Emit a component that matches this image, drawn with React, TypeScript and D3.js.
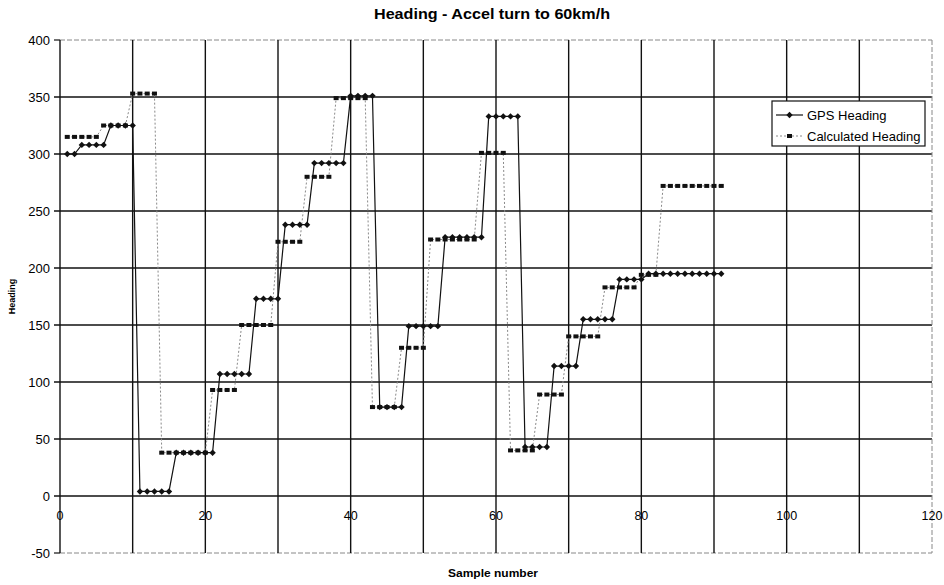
import React from "react";
import * as d3 from "d3";

const chartTitle = "Heading - Accel turn to 60km/h";
const xAxisTitle = "Sample number";
const yAxisTitle = "Heading";
const seriesNames = ["GPS Heading", "Calculated Heading"];
const xTickLabels = [0, 20, 40, 60, 80, 100, 120];
const xGridValues = [0, 10, 20, 30, 40, 50, 60, 70, 80, 90, 100, 110, 120];
const yTickLabels = [-50, 0, 50, 100, 150, 200, 250, 300, 350, 400];

// sample numbers 1..91
const sampleNumbers = [
  1, 2, 3, 4, 5, 6, 7, 8, 9, 10, 11, 12, 13, 14, 15, 16, 17, 18, 19, 20,
  21, 22, 23, 24, 25, 26, 27, 28, 29, 30, 31, 32, 33, 34, 35, 36, 37, 38, 39, 40,
  41, 42, 43, 44, 45, 46, 47, 48, 49, 50, 51, 52, 53, 54, 55, 56, 57, 58, 59, 60,
  61, 62, 63, 64, 65, 66, 67, 68, 69, 70, 71, 72, 73, 74, 75, 76, 77, 78, 79, 80,
  81, 82, 83, 84, 85, 86, 87, 88, 89, 90, 91,
];

const gpsHeading = [
  300, 300,
  308, 308, 308, 308,
  325, 325, 325, 325,
  4, 4, 4, 4, 4,
  38, 38, 38, 38, 38, 38,
  107, 107, 107, 107, 107,
  173, 173, 173, 173,
  238, 238, 238, 238,
  292, 292, 292, 292, 292,
  351, 351, 351, 351,
  78, 78, 78, 78,
  149, 149, 149, 149, 149,
  227, 227, 227, 227, 227, 227,
  333, 333, 333, 333, 333,
  43, 43, 43, 43,
  114, 114, 114, 114,
  155, 155, 155, 155, 155,
  190, 190, 190, 190,
  195, 195, 195, 195, 195, 195, 195, 195, 195, 195, 195,
];

const calculatedHeading = [
  315, 315, 315, 315, 315,
  325, 325, 325, 325,
  353, 353, 353, 353,
  38, 38, 38, 38, 38, 38, 38,
  93, 93, 93, 93,
  150, 150, 150, 150, 150,
  223, 223, 223, 223,
  280, 280, 280, 280,
  349, 349, 349, 349, 349,
  78, 78, 78, 78,
  130, 130, 130, 130,
  225, 225, 225, 225, 225, 225, 225,
  301, 301, 301, 301,
  40, 40, 40, 40,
  89, 89, 89, 89,
  140, 140, 140, 140, 140,
  183, 183, 183, 183, 183,
  194, 194, 194,
  272, 272, 272, 272, 272, 272, 272, 272, 272,
];

const FONT = "'Liberation Sans', Arial, sans-serif";

export default function App() {
  const W = 944;
  const H = 585;
  const x = d3.scaleLinear().domain([0, 120]).range([60, 932]);
  const y = d3.scaleLinear().domain([-50, 400]).range([553, 40]);

  const gpsPts = sampleNumbers.map((s, i) => [s, gpsHeading[i]] as [number, number]);
  const calcPts = sampleNumbers.map((s, i) => [s, calculatedHeading[i]] as [number, number]);
  const line = d3
    .line<[number, number]>()
    .x((d) => x(d[0]))
    .y((d) => y(d[1]));

  const diamond = (cx: number, cy: number, r: number) =>
    `M${cx},${cy - r}L${cx + r},${cy}L${cx},${cy + r}L${cx - r},${cy}Z`;

  const [x0, x1] = x.range();
  const [yb, yt] = y.range();

  return (
    <svg
      width={W}
      height={H}
      style={{ position: "absolute", left: 0, top: 0, background: "#fff" }}
      fontFamily={FONT}
    >
      <rect x={0} y={0} width={W} height={H} fill="#fff" />
      {/* horizontal gridlines */}
      {yTickLabels.map((v) => {
        const edge = v === 400 || v === -50;
        return (
          <line
            key={"h" + v}
            x1={x0 - (edge ? 0 : 6)}
            x2={x1}
            y1={y(v)}
            y2={y(v)}
            stroke={edge ? "#888" : "#111"}
            strokeWidth={edge ? 1 : 1.4}
            strokeDasharray={edge ? "5,2" : undefined}
          />
        );
      })}
      {/* vertical gridlines */}
      {xGridValues.map((v) => {
        const edge = v === 120;
        return (
          <line
            key={"v" + v}
            x1={x(v)}
            x2={x(v)}
            y1={yt}
            y2={yb}
            stroke={edge ? "#888" : "#111"}
            strokeWidth={edge ? 1 : 1.4}
            strokeDasharray={edge ? "5,2" : undefined}
          />
        );
      })}
      {/* y tick marks at the frame edges */}
      {[400, -50].map((v) => (
        <line key={"t" + v} x1={x0 - 6} x2={x0} y1={y(v)} y2={y(v)} stroke="#111" strokeWidth={1.2} />
      ))}
      {/* y tick labels */}
      {yTickLabels.map((v) => (
        <text key={"yl" + v} x={x0 - 10} y={y(v)} dy="0.35em" textAnchor="end" fontSize={13} fill="#000">
          {v}
        </text>
      ))}
      {/* x tick labels */}
      {xTickLabels.map((v) => (
        <text key={"xl" + v} x={x(v)} y={y(0) + 24} textAnchor="middle" fontSize={12.5} fill="#000">
          {v}
        </text>
      ))}

      {/* Calculated heading */}
      <path d={line(calcPts) || ""} fill="none" stroke="#8a8a8a" strokeWidth={1} strokeDasharray="2,2" />
      {calcPts.map((d, i) => (
        <rect key={"c" + i} x={x(d[0]) - 2.5} y={y(d[1]) - 2} width={5} height={4} fill="#111" />
      ))}

      {/* GPS heading */}
      <path d={line(gpsPts) || ""} fill="none" stroke="#111" strokeWidth={1.2} />
      {gpsPts.map((d, i) => (
        <path key={"g" + i} d={diamond(x(d[0]), y(d[1]), 3.2)} fill="#111" />
      ))}

      {/* titles */}
      <text x={492} y={19} textAnchor="middle" fontSize={15} fontWeight="bold" textLength={236} lengthAdjust="spacingAndGlyphs">
        {chartTitle}
      </text>
      <text x={493} y={577} textAnchor="middle" fontSize={10} fontWeight="bold" textLength={90} lengthAdjust="spacingAndGlyphs">
        {xAxisTitle}
      </text>
      <text
        transform={`translate(15,${(yt + yb) / 2}) rotate(-90)`}
        textAnchor="middle"
        fontSize={9}
        fontWeight="bold"
      >
        {yAxisTitle}
      </text>

      {/* legend */}
      <g>
        <rect x={772} y={101} width={153} height={45} fill="#fff" stroke="#111" strokeWidth={1.2} />
        <line x1={776} x2={803} y1={115} y2={115} stroke="#111" strokeWidth={1.2} />
        <path d={diamond(789.5, 115, 3.2)} fill="#111" />
        <text x={807} y={115} dy="0.35em" fontSize={13}>
          {seriesNames[0]}
        </text>
        <line x1={776} x2={803} y1={136} y2={136} stroke="#8a8a8a" strokeWidth={1} strokeDasharray="2,2" />
        <rect x={787} y={134} width={5} height={4} fill="#111" />
        <text x={807} y={136} dy="0.35em" fontSize={13}>
          {seriesNames[1]}
        </text>
      </g>
    </svg>
  );
}
